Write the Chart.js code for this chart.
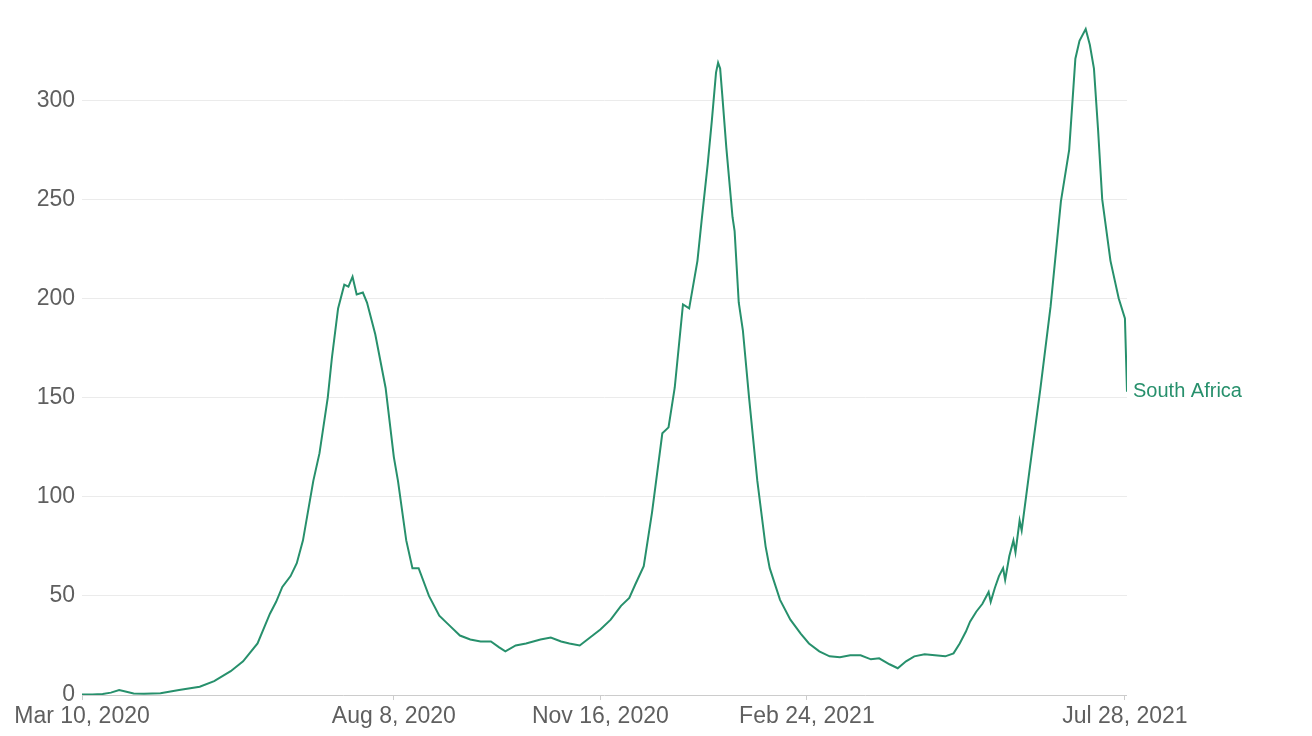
<!DOCTYPE html>
<html lang="en">
<head>
<meta charset="UTF-8">
<title>South Africa</title>
<script src="https://cdn.jsdelivr.net/npm/chart.js"></script>
<style>
html,body{margin:0;padding:0;background:#fff;}
.wrap{width:1312px;height:736px;position:relative;}
</style>
</head>
<body>
<div class="wrap"><canvas id="chart"></canvas></div>
<script>
/* ---- data: days since Mar 10, 2020 / value ---- */
const days=[0,5,10,14,18,21,25,30,38,47,57,64,72,78,85,91,94,97,101,104,107,112,115,119,121,124,127,129,131,133,136,138,142,147,151,153,157,160,163,168,173,178,183,188,193,198,202,205,210,215,222,227,232,236,241,246,251,256,261,265,268,272,276,281,284,287,291,294,298,300,303,305,307,308,309,310,312,315,316,318,320,323,327,331,333,338,343,348,352,357,362,367,372,377,382,386,391,395,399,403,408,413,418,422,425,428,430,433,436,439,440,442,444,446,447,449,451,452,454,455,459,464,469,474,478,481,483,486,488,490,492,494,498,502,505,506];
const values=[0.2,0.3,0.5,1.2,2.5,1.8,0.8,0.6,0.9,2.5,4.2,7,12,17,26,41,47,54.5,60,66.5,78,108,122,150,170,195,207,206,211,202,203,198,182,155,120,108,78,64,64,50,40,35,30,28,27,27,24,22,25,26,28,29,27,26,25,29,33,38,45,49,56,65,92,132,135,155,197,195,219,239,268,290,314,319,316,303,276,241,234,198,184,150,108,75,64,48,38,31,26,22,19.5,19,20,20,18,18.5,15.5,13.5,17,19.5,20.5,20,19.5,21,26,32,37,42,46,52,47,54,60,64,58,70,78,72,88,83,115,154,196,249,275,321,330,336,328,316,285,250,219,200,190,153];
const seriesName="South Africa";

const tickDays=[0,151,251,351,505];
const tickLabels=["Mar 10, 2020","Aug 8, 2020","Nov 16, 2020","Feb 24, 2021","Jul 28, 2021"];
const yTicks=[0,50,100,150,200,250,300];

const LINE="#27906c";
const FONT="'Liberation Sans', Arial, Helvetica, sans-serif";

/* label at the end of the line */
const endLabel={
    id:"endLabel",
    afterDatasetsDraw(chart){
        const {ctx,scales:{x,y}}=chart;
        const i=days.length-1;
        ctx.save();
        ctx.font="20px "+FONT;
        ctx.fillStyle=LINE;
        ctx.textAlign="left";
        ctx.textBaseline="middle";
        ctx.fillText(seriesName,x.getPixelForValue(days[i])+6,y.getPixelForValue(values[i]));
        ctx.restore();
    }
};

new Chart(document.getElementById("chart"),{
    type:"line",
    data:{
        datasets:[{
            label:seriesName,
            data:days.map((d,i)=>({x:d,y:values[i]})),
            borderColor:LINE,
            borderWidth:2,
            pointRadius:0,
            tension:0,
            fill:false
        }]
    },
    options:{
        animation:false,
        responsive:true,
        maintainAspectRatio:false,
        layout:{padding:{top:21,right:185,bottom:0,left:0}},
        plugins:{legend:{display:false},tooltip:{enabled:false}},
        scales:{
            x:{
                type:"linear",min:0,max:506,
                afterBuildTicks:s=>{s.ticks=tickDays.map(v=>({value:v}));},
                afterFit:s=>{s.height=41;},
                grid:{drawOnChartArea:false,drawTicks:true,tickLength:5,color:"#cccccc"},
                border:{display:false},
                ticks:{
                    autoSkip:false,maxRotation:0,padding:3,
                    color:"#5f5f5f",font:{family:FONT,size:23},
                    callback:v=>tickLabels[tickDays.indexOf(v)]
                }
            },
            y:{
                min:0,max:340,
                afterBuildTicks:s=>{s.ticks=yTicks.map(v=>({value:v}));},
                afterFit:s=>{s.width=82;},
                grid:{drawTicks:false,color:c=>c.tick.value===0?"#cccccc":"#ebebeb"},
                border:{display:false},
                ticks:{padding:7,color:"#5f5f5f",font:{family:FONT,size:23}}
            }
        }
    },
    plugins:[endLabel]
});
</script>
</body>
</html>
